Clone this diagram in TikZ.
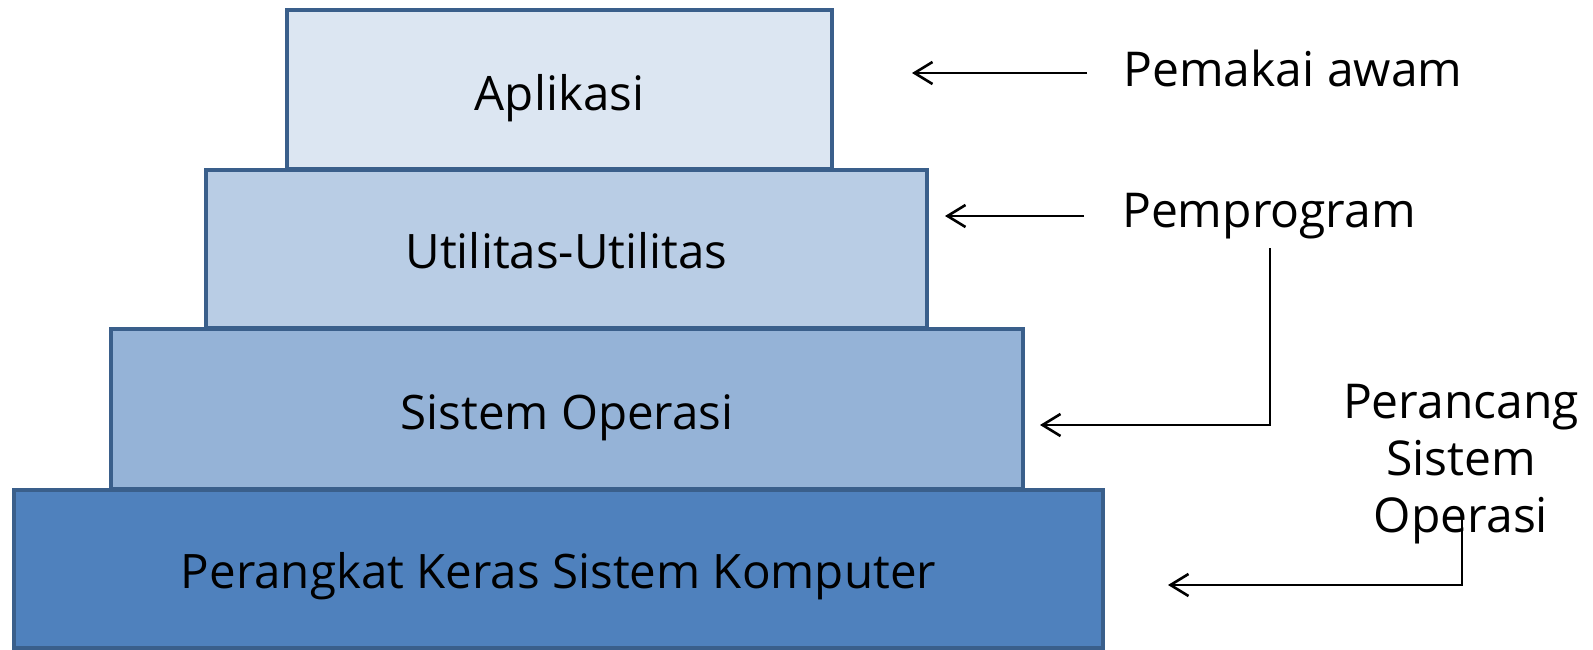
\documentclass[tikz,border=0pt]{standalone}
\usepackage{fontspec}
\setmainfont{Open Sans}
\usetikzlibrary{arrows.meta}
\definecolor{edge}{HTML}{3A5F8B}
\definecolor{fillA}{HTML}{DCE6F2}
\definecolor{fillB}{HTML}{B9CDE5}
\definecolor{fillC}{HTML}{95B3D7}
\definecolor{fillD}{HTML}{4F81BD}
\tikzset{
  layer/.style={draw=edge, line width=4pt, inner sep=0pt},
  boxtext/.style={inner sep=0pt, font=\fontsize{47.5}{57}\selectfont},
  lbl/.style={inner sep=0pt, font=\fontsize{48}{57}\selectfont, align=center},
  conn/.style={line width=2.6pt, -{Straight Barb[length=18pt,width=22pt,line width=2.6pt]}}
}
\begin{document}
\begin{tikzpicture}[x=1pt,y=-1pt]
\useasboundingbox (0,0) rectangle (1593,650);
\node[layer, fill=fillD, minimum width=1089pt, minimum height=158pt] (hw) at (558.5,569) {};
\node[layer, fill=fillC, minimum width=912pt, minimum height=160pt] (os) at (567,409) {};
\node[layer, fill=fillB, minimum width=721pt, minimum height=158pt] (ut) at (566.5,249) {};
\node[layer, fill=fillA, minimum width=545pt, minimum height=159pt] (ap) at (559.5,89.5) {};
\node[boxtext] (hwt) at ([yshift=-7pt]hw.center) {Perangkat Keras Sistem Komputer};
\node[boxtext] (ost) at ([yshift=-9pt]os.center) {Sistem Operasi};
\node[boxtext] (utt) at ([yshift=-2pt]ut.center) {Utilitas-Utilitas};
\node[boxtext] (apt) at ([yshift=-9pt]ap.center) {Aplikasi};
\node[lbl] (pa) at (1293,69) {Pemakai awam};
\node[lbl] (pp) at (1269,216) {Pemprogram};
\node[lbl] (pso) at (1461,464) {Perancang\\Sistem\\Operasi};
\coordinate (a1) at (1087,73);
\coordinate (a1t) at (912,73);
\coordinate (a2) at (1084,216);
\coordinate (a2t) at (945,216);
\coordinate (a3) at (1270,248);
\coordinate (a3t) at (1040,425);
\coordinate (a4) at (1462,518);
\coordinate (a4t) at (1168,585);
\draw[conn] (a1) -- (a1t);
\draw[conn] (a2) -- (a2t);
\draw[conn] (a3) |- (a3t);
\draw[conn] (a4) |- (a4t);
\end{tikzpicture}
\end{document}
